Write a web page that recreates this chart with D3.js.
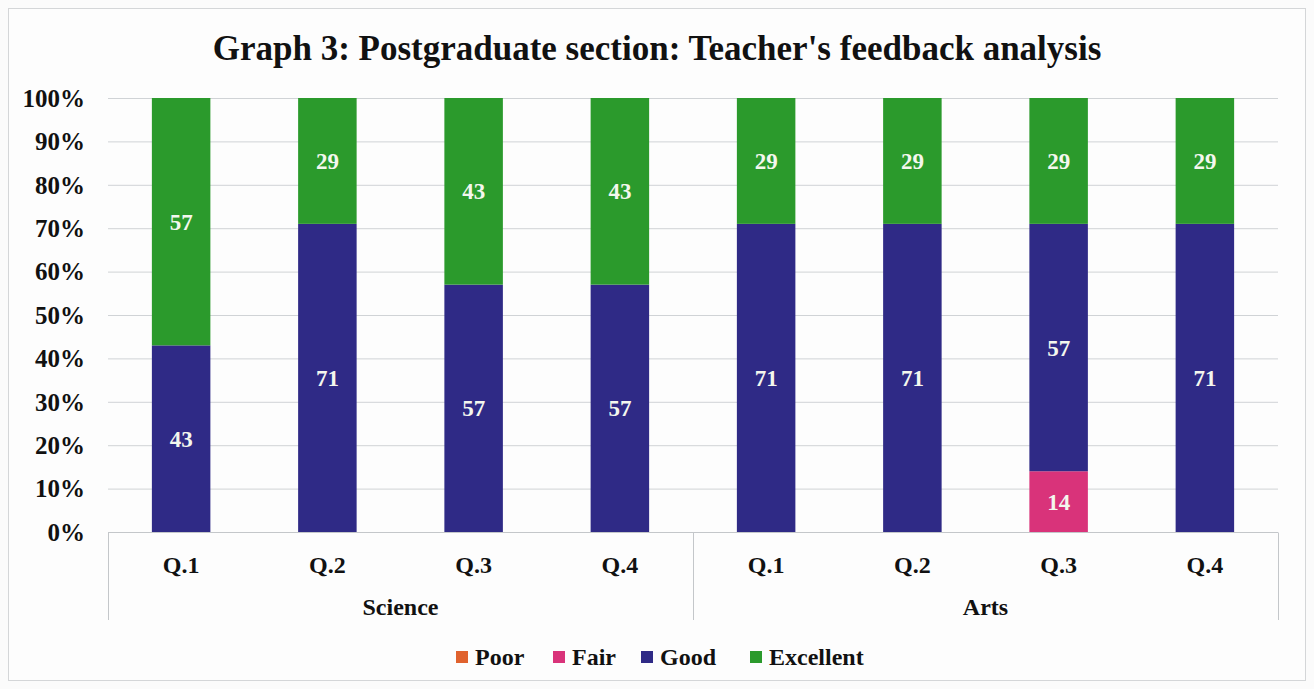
<!DOCTYPE html>
<html>
<head>
<meta charset="utf-8">
<script src="https://cdn.jsdelivr.net/npm/d3@7"></script>
<style>
  body { margin: 0; background: #fbfbfb; }
  svg { display: block; font-family: "Liberation Serif", "Times New Roman", serif; font-weight: bold; }
</style>
</head>
<body>
<svg id="chart" width="1314" height="689"></svg>
<script>
const groups = ['Science', 'Arts'];
const questions = ['Q.1', 'Q.2', 'Q.3', 'Q.4'];
const seriesNames = ['Poor', 'Fair', 'Good', 'Excellent'];
const seriesColors = ['#e0622e', '#d9337a', '#2f2a86', '#2b9a2c'];

// values per bar, in order Science Q.1..Q.4 then Arts Q.1..Q.4
const poor      = [0, 0, 0, 0, 0, 0, 0, 0];
const fair      = [0, 0, 0, 0, 0, 0, 14, 0];
const good      = [43, 71, 57, 57, 71, 71, 57, 71];
const excellent = [57, 29, 43, 43, 29, 29, 29, 29];

const yTicks = [0, 10, 20, 30, 40, 50, 60, 70, 80, 90, 100];

const rows = [];
groups.forEach((g, gi) => {
  questions.forEach((q, qi) => {
    const i = gi * questions.length + qi;
    rows.push({ key: g + '|' + q, group: g, q: q, Poor: poor[i], Fair: fair[i], Good: good[i], Excellent: excellent[i] });
  });
});

const svg = d3.select('#chart');
const margin = { left: 108, right: 36, top: 98, bottom: 157 };
const W = 1314, H = 689;

// outer chart border
svg.append('rect')
  .attr('x', 8.5).attr('y', 8.5)
  .attr('width', W - 17).attr('height', H - 17)
  .attr('fill', '#fdfdfd')
  .attr('stroke', '#d4d6d8');

const x = d3.scaleBand()
  .domain(rows.map(d => d.key))
  .range([margin.left, W - margin.right])
  .paddingInner(0.6)
  .paddingOuter(0.3);

const y = d3.scaleLinear()
  .domain([0, 100])
  .range([H - margin.bottom, margin.top]);

// grid
svg.append('g')
  .selectAll('line')
  .data(yTicks.slice(1))
  .join('line')
  .attr('x1', margin.left).attr('x2', W - margin.right)
  .attr('y1', d => y(d) + 0.5).attr('y2', d => y(d) + 0.5)
  .attr('stroke', '#d0d3d6')
  .attr('stroke-width', 1);

// y tick labels
svg.append('g')
  .selectAll('text')
  .data(yTicks)
  .join('text')
  .attr('x', 85)
  .attr('y', d => y(d))
  .attr('dy', '0.35em')
  .attr('text-anchor', 'end')
  .attr('font-size', 25)
  .attr('fill', '#111')
  .text(d => d + '%');

// stacked bars
const stack = d3.stack().keys(seriesNames);
const layers = stack(rows);

const layerG = svg.append('g')
  .selectAll('g')
  .data(layers)
  .join('g')
  .attr('fill', (d, i) => seriesColors[i]);

layerG.selectAll('rect')
  .data(d => d.filter(s => s[1] - s[0] > 0))
  .join('rect')
  .attr('x', d => x(d.data.key))
  .attr('y', d => y(d[1]))
  .attr('width', x.bandwidth())
  .attr('height', d => y(d[0]) - y(d[1]));

// value labels
layerG.selectAll('text')
  .data(d => d.filter(s => s[1] - s[0] > 0))
  .join('text')
  .attr('x', d => x(d.data.key) + x.bandwidth() / 2)
  .attr('y', d => y((d[0] + d[1]) / 2))
  .attr('dy', '0.35em')
  .attr('text-anchor', 'middle')
  .attr('font-size', 23)
  .attr('fill', '#f4f7ee')
  .text(d => d[1] - d[0]);

// category axis (baseline + group separators)
const axisG = svg.append('g');
const baseY = y(0) + 0.5;
axisG.append('line')
  .attr('x1', margin.left).attr('x2', W - margin.right)
  .attr('y1', baseY).attr('y2', baseY)
  .attr('stroke', '#c4c7ca');

const separators = [0, questions.length, rows.length].map(i =>
  i === 0 ? margin.left : i === rows.length ? W - margin.right
    : (x(rows[i - 1].key) + x(rows[i].key) + x.bandwidth()) / 2);

axisG.selectAll('line.sep')
  .data(separators)
  .join('line')
  .attr('class', 'sep')
  .attr('x1', d => Math.round(d) + 0.5).attr('x2', d => Math.round(d) + 0.5)
  .attr('y1', baseY).attr('y2', 620)
  .attr('stroke', '#c4c7ca');

axisG.selectAll('text.q')
  .data(rows)
  .join('text')
  .attr('class', 'q')
  .attr('x', d => x(d.key) + x.bandwidth() / 2)
  .attr('y', 565)
  .attr('dy', '0.35em')
  .attr('text-anchor', 'middle')
  .attr('font-size', 24)
  .attr('fill', '#111')
  .text(d => d.q);

axisG.selectAll('text.grp')
  .data(groups)
  .join('text')
  .attr('class', 'grp')
  .attr('x', (d, i) => (separators[i] + separators[i + 1]) / 2)
  .attr('y', 607)
  .attr('dy', '0.35em')
  .attr('text-anchor', 'middle')
  .attr('font-size', 24)
  .attr('fill', '#111')
  .text(d => d);

// title
svg.append('text')
  .attr('x', 657)
  .attr('y', 48)
  .attr('dy', '0.35em')
  .attr('text-anchor', 'middle')
  .attr('font-size', 35)
  .attr('fill', '#111')
  .text("Graph 3: Postgraduate section: Teacher's feedback analysis");

// legend
const legendX = [456, 553, 641, 750];
const legend = svg.append('g')
  .selectAll('g')
  .data(seriesNames)
  .join('g')
  .attr('transform', (d, i) => `translate(${legendX[i]},657)`);

legend.append('rect')
  .attr('x', 0).attr('y', -6)
  .attr('width', 12).attr('height', 12)
  .attr('fill', (d, i) => seriesColors[i]);

legend.append('text')
  .attr('x', 19)
  .attr('dy', '0.35em')
  .attr('font-size', 24)
  .attr('fill', '#111')
  .text(d => d);
</script>
</body>
</html>
